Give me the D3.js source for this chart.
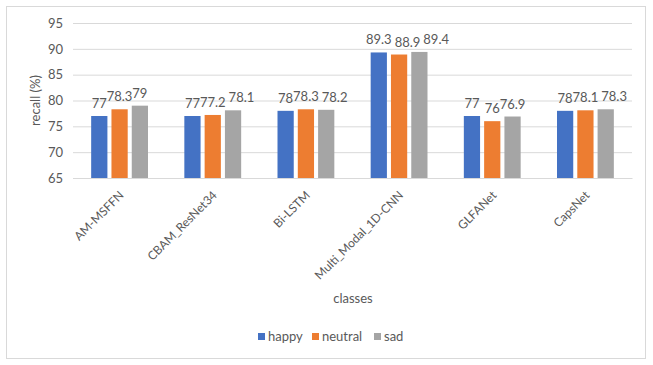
<!DOCTYPE html>
<html>
<head>
<meta charset="utf-8">
<script src="https://cdn.jsdelivr.net/npm/d3@7"></script>
<style>
  html, body { margin: 0; padding: 0; background: #fff; }
  svg { display: block; font-family: Lato, "Open Sans", sans-serif; }
</style>
</head>
<body>
<svg id="chart" width="653" height="365"></svg>
<script>
const categories = ["AM-MSFFN", "CBAM_ResNet34", "Bi-LSTM", "Multi_Modal_1D-CNN", "GLFANet", "CapsNet"];
const seriesNames = ["happy", "neutral", "sad"];
const happy = [77, 77, 78, 89.3, 77, 78];
const neutral = [78.3, 77.2, 78.3, 88.9, 76, 78.1];
const sad = [79, 78.1, 78.2, 89.4, 76.9, 78.3];
const yTicks = [65, 70, 75, 80, 85, 90, 95];
const colors = ["#4472C4", "#ED7D31", "#A5A5A5"];

const seriesValues = [happy, neutral, sad];
const svg = d3.select("#chart");
const textColor = "#595959";

// chart border
svg.append("rect").attr("x", 6.5).attr("y", 6.5).attr("width", 639).attr("height", 352)
  .attr("fill", "#fff").attr("stroke", "#D9D9D9").attr("stroke-width", 1);

const plot = { left: 73, right: 632, top: 23, bottom: 178 };

const y = d3.scaleLinear().domain([65, 95]).range([plot.bottom, plot.top]);
const x0 = d3.scaleBand().domain(categories).range([plot.left, plot.right])
  .paddingInner(0.39).paddingOuter(0.195);
const x1 = d3.scaleBand().domain(seriesNames).range([0, x0.bandwidth()]).paddingInner(0.2);

// gridlines
const yAxis = d3.axisLeft(y).tickValues(yTicks).tickSize(-(plot.right - plot.left)).tickPadding(10);
const gy = svg.append("g").attr("transform", `translate(${plot.left},0)`).call(yAxis);
gy.select(".domain").remove();
gy.selectAll(".tick line").attr("stroke", "#D9D9D9").attr("stroke-width", 1);
gy.selectAll(".tick text").attr("fill", textColor).style("font-size", "13px")
  .style("font-family", "Lato, 'Open Sans', sans-serif");

// bars
const barLayer = svg.append("g");
const labelLayer = svg.append("g");
categories.forEach((cat, ci) => {
  const g = barLayer.append("g").attr("transform", `translate(${x0(cat)},0)`);
  let prevRight = -Infinity;
  seriesNames.forEach((s, si) => {
    const v = seriesValues[si][ci];
    g.append("rect")
      .attr("x", x1(s))
      .attr("y", y(v))
      .attr("width", x1.bandwidth())
      .attr("height", y(65) - y(v))
      .attr("fill", colors[si]);
    const cx = x0(cat) + x1(s) + x1.bandwidth() / 2;
    const t = labelLayer.append("text")
      .attr("y", y(v) - 8)
      .attr("text-anchor", "start")
      .attr("fill", textColor)
      .style("font-size", "13px")
      .text(v);
    const w = t.node().getComputedTextLength();
    let left = cx - w / 2;
    // simple overlap avoidance like the spreadsheet's label placement
    if (left < prevRight - 1.5) left = prevRight + 3;
    t.attr("x", left);
    prevRight = left + w;
  });
});

// x axis
const xAxis = d3.axisBottom(x0).tickSize(0).tickPadding(0);
const gx = svg.append("g").attr("transform", `translate(0,${plot.bottom})`).call(xAxis);
gx.select(".domain").attr("stroke", "#D9D9D9");
gx.selectAll(".tick text")
  .attr("fill", textColor)
  .style("font-size", "12px")
  .style("font-family", "Lato, 'Open Sans', sans-serif")
  .attr("text-anchor", "end")
  .attr("dy", null)
  .attr("transform", "translate(5,18) rotate(-45)");

// axis titles
svg.append("text")
  .attr("transform", `translate(40,${(plot.top + plot.bottom) / 2}) rotate(-90)`)
  .attr("text-anchor", "middle")
  .attr("fill", textColor)
  .style("font-size", "13px")
  .text("recall (%)");

svg.append("text")
  .attr("x", 353).attr("y", 303)
  .attr("text-anchor", "middle")
  .attr("fill", textColor)
  .style("font-size", "13px")
  .text("classes");

// legend
const legendItems = [
  { name: "happy", x: 258 },
  { name: "neutral", x: 312 },
  { name: "sad", x: 374 }
];
const lg = svg.append("g");
legendItems.forEach((it, i) => {
  lg.append("rect").attr("x", it.x).attr("y", 333).attr("width", 7).attr("height", 7).attr("fill", colors[i]);
  lg.append("text").attr("x", it.x + 10).attr("y", 341)
    .attr("fill", textColor).style("font-size", "13px").text(it.name);
});
</script>
</body>
</html>
